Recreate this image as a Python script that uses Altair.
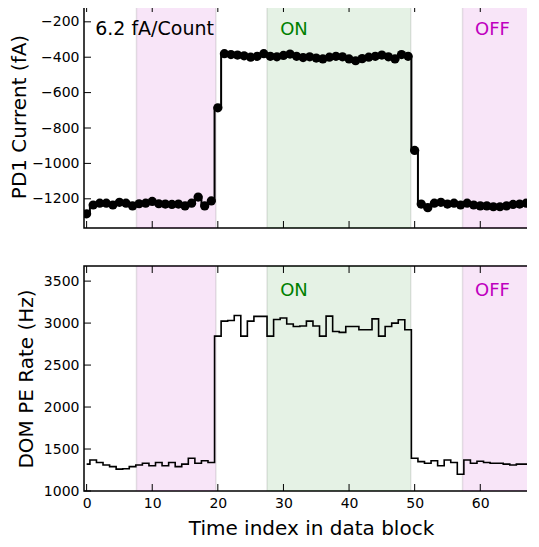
import altair as alt
import pandas as pd

# ---------------- data ----------------
pd1_idx = list(range(69))
pd1 = [-1285, -1235, -1225, -1225, -1235, -1220, -1225, -1240, -1228, -1225,
       -1215, -1228, -1230, -1232, -1230, -1240, -1225, -1190, -1240, -1212,
       -686, -380, -385, -388, -392, -400, -395, -380, -395, -398,
       -390, -382, -395, -402, -398, -405, -410, -400, -395, -398,
       -410, -420, -408, -400, -395, -388, -398, -410, -385, -395,
       -927, -1230, -1250, -1225, -1220, -1230, -1225, -1235, -1225, -1235,
       -1240, -1240, -1245, -1245, -1240, -1232, -1230, -1225, -1230]
rate_idx = list(range(70))
rate = [1320, 1370, 1340, 1310, 1290, 1260, 1265, 1290, 1310, 1330,
        1300, 1340, 1300, 1340, 1290, 1320, 1390, 1330, 1360, 1340,
        2845, 3024, 3030, 3090, 2845, 3024, 3080, 3080, 2845, 3043,
        3060, 2990, 2960, 2965, 3024, 2965, 2845, 3083, 2900, 2890,
        2960, 2960, 2920, 2920, 3050, 2845, 2960, 3000, 3040, 2920,
        1390, 1350, 1330, 1360, 1300, 1370, 1340, 1200, 1370, 1330,
        1355, 1340, 1330, 1330, 1320, 1310, 1320, 1320, 1330, 1400]

x_ticks = [0, 10, 20, 30, 40, 50, 60]
pd1_ticks = [-1200, -1000, -800, -600, -400, -200]
rate_ticks = [1000, 1500, 2000, 2500, 3000, 3500]

band_start = [7.6, 27.5, 57.3]
band_end = [19.7, 49.4, 69.0]
band_state = ["OFF", "ON", "OFF"]

top_text = ["6.2 fA/Count", "ON", "OFF"]
top_text_x = [1.3, 29.5, 59.2]
top_text_y = [-274, -274, -274]
top_text_color = ["black", "#008000", "#bf00bf"]
top_text_size = [19, 18, 18]

bot_text = ["ON", "OFF"]
bot_text_x = [29.5, 59.2]
bot_text_y = [3326, 3326]
bot_text_color = ["#008000", "#bf00bf"]
bot_text_size = [18, 18]

# ---------------- tables ----------------
s1 = pd.DataFrame({"idx": pd1_idx, "pd1": pd1})
s2 = pd.DataFrame({"idx": rate_idx, "rate": rate})
bands = pd.DataFrame({"start": band_start, "end": band_end, "state": band_state})
xt = pd.DataFrame({"t": x_ticks})
yt1 = pd.DataFrame({"v": pd1_ticks})
yt2 = pd.DataFrame({"v": rate_ticks})
ann1 = pd.DataFrame({"x": top_text_x, "y": top_text_y, "label": top_text,
                     "c": top_text_color, "s": top_text_size})
ann2 = pd.DataFrame({"x": bot_text_x, "y": bot_text_y, "label": bot_text,
                     "c": bot_text_color, "s": bot_text_size})

W = 454
H1 = 223
H2 = 225
TL = 7
FONT = "DejaVu Sans"

xs = alt.Scale(domain=[-0.4, 68.8], nice=False, zero=False)
ys1 = alt.Scale(domain=[-1365, -105], nice=False, zero=False)
ys2 = alt.Scale(domain=[1000, 3680], nice=False, zero=False)

band_color = alt.Color("state:N", scale=alt.Scale(domain=["OFF", "ON"], range=["#bf00bf", "#008000"]), legend=None)


def yaxis(vals, title, tpad):
    return alt.Axis(values=vals, ticks=False, tickSize=0, domain=False, grid=False,
                    labelFontSize=14, labelFont=FONT, labelColor="black", labelPadding=5,
                    format="d", title=title, titleFont=FONT, titleFontSize=20,
                    titleFontWeight="normal", titleColor="black", titlePadding=tpad)


xaxis_bottom = alt.Axis(values=x_ticks, ticks=False, tickSize=0, domain=False, grid=False,
                        labelFontSize=14, labelFont=FONT, labelColor="black", labelPadding=5,
                        format="d", title="Time index in data block", titleFont=FONT,
                        titleFontSize=20, titleFontWeight="normal", titleColor="black",
                        titlePadding=8)


def panel(src, yfield, ys, yax, xax, H, yticks_df, ann_df, with_points):
    X = lambda f: alt.X(f, scale=xs, axis=xax)
    Y = lambda f: alt.Y(f, scale=ys, axis=yax)
    layers = []
    layers.append(alt.Chart(bands).mark_rect(fillOpacity=0.1, stroke="black", strokeOpacity=0.1,
                                             strokeWidth=1.5, clip=True).encode(
        x=X("start:Q"), x2="end:Q", y=alt.value(0), y2=alt.value(H), color=band_color))
    layers.append(alt.Chart(src).mark_line(interpolate="step", color="black",
                                           strokeWidth=2 if with_points else 1.6,
                                           clip=True).encode(x=X("idx:Q"), y=Y(f"{yfield}:Q")))
    if with_points:
        layers.append(alt.Chart(src).mark_circle(size=85, color="black", opacity=1,
                                                 clip=True).encode(x=X("idx:Q"), y=Y(f"{yfield}:Q")))
    # inward ticks on all four sides
    layers.append(alt.Chart(xt).mark_rule(color="black", strokeWidth=1).encode(
        x=X("t:Q"), y=alt.value(H), y2=alt.value(H - TL)))
    layers.append(alt.Chart(xt).mark_rule(color="black", strokeWidth=1).encode(
        x=X("t:Q"), y=alt.value(0), y2=alt.value(TL)))
    layers.append(alt.Chart(yticks_df).mark_rule(color="black", strokeWidth=1).encode(
        y=Y("v:Q"), x=alt.value(0), x2=alt.value(TL)))
    layers.append(alt.Chart(yticks_df).mark_rule(color="black", strokeWidth=1).encode(
        y=Y("v:Q"), x=alt.value(W), x2=alt.value(W - TL)))
    layers.append(alt.Chart(ann_df).mark_text(align="left", baseline="alphabetic",
                                              font=FONT).encode(
        x=X("x:Q"), y=Y("y:Q"), text="label:N", color=alt.Color("c:N", scale=None),
        size=alt.Size("s:Q", scale=None)))
    return alt.layer(*layers).properties(width=W, height=H)


top = panel(s1, "pd1", ys1, yaxis(pd1_ticks, "PD1 Current (fA)", 2), None, H1, yt1, ann1, True)
bottom = panel(s2, "rate", ys2, yaxis(rate_ticks, "DOM PE Rate (Hz)", 7), xaxis_bottom, H2, yt2, ann2, False)

chart = alt.vconcat(top, bottom, spacing=34).properties(
    padding={"top": -5, "left": 0, "right": -13, "bottom": -2}
).configure_view(stroke="black", strokeWidth=1.5)

chart.save("out.html", embed_options={"renderer": "svg", "actions": False})
